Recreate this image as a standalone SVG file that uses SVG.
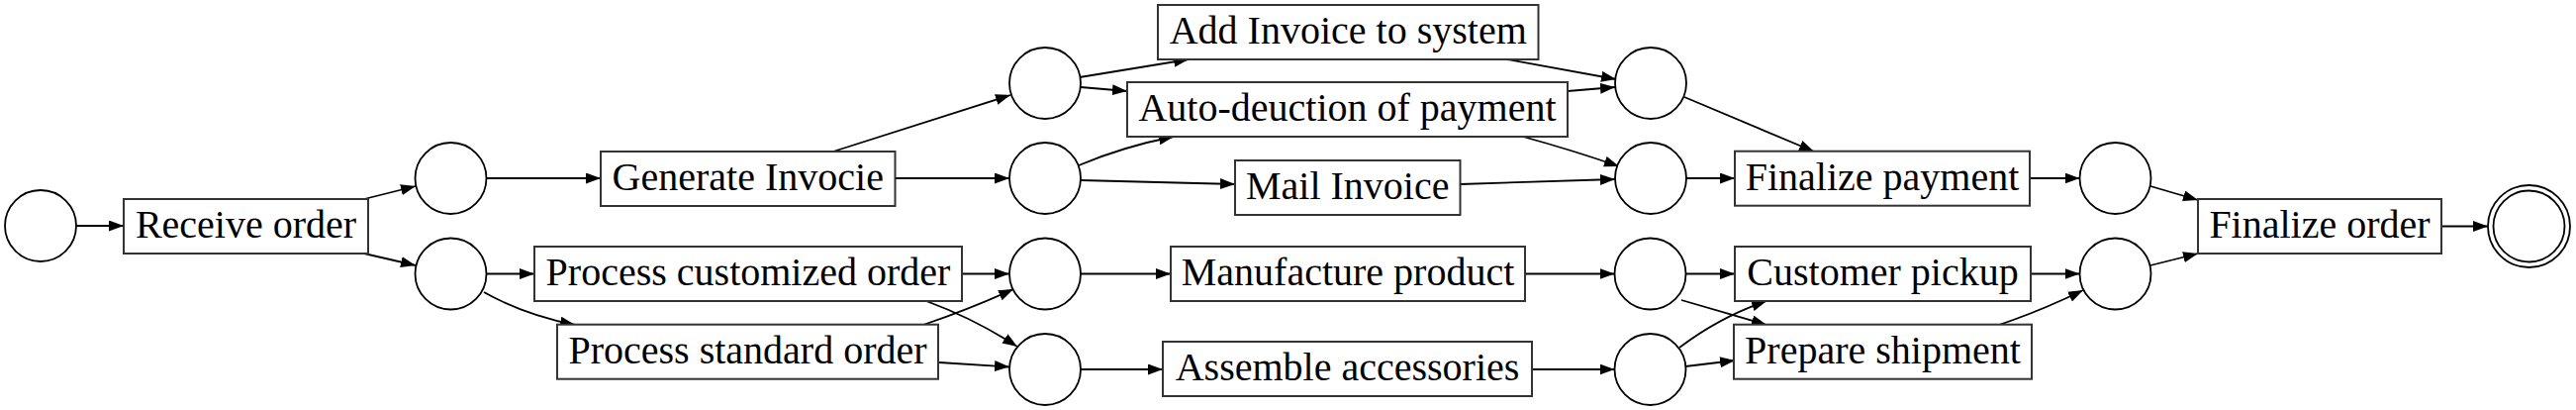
<svg xmlns="http://www.w3.org/2000/svg" width="2603" height="414" viewBox="0 0 2603 414">
<style>
.pl{fill:#fff;stroke:#000;stroke-width:1.8}
.tr{fill:#fff;stroke:#333;stroke-width:2}
.lb{font-size:40px;text-anchor:middle;fill:#000}
.e{fill:none;stroke:#000;stroke-width:1.8;marker-end:url(#ah)}
</style>
<defs>
<marker id="ah" markerUnits="userSpaceOnUse" markerWidth="16" markerHeight="12" refX="15" refY="5.5" orient="auto">
<path d="M0,0 L15,5.5 L0,11 z" fill="#000"/>
</marker>
</defs>
<rect width="2603" height="414" fill="#fff"/>
<g id="connectors">
<path class="e" d="M77,228 L125,228"/>
<path class="e" d="M368,201 L420,188"/>
<path class="e" d="M368,256 L420,268"/>
<path class="e" d="M491.5,180 L607,180"/>
<path class="e" d="M842,153 L1021,96"/>
<path class="e" d="M904.5,180 L1020,180"/>
<path class="e" d="M1091,78 L1201,60"/>
<path class="e" d="M1092,88 L1139,92"/>
<path class="e" d="M1090,167 Q1135,148 1186,138"/>
<path class="e" d="M1092,182 L1248,186"/>
<path class="e" d="M1523,60 L1633,80"/>
<path class="e" d="M1584,92 L1632,88"/>
<path class="e" d="M1539,138 Q1590,152 1636,168"/>
<path class="e" d="M1475.5,186 L1632,181"/>
<path class="e" d="M1702,98 L1833,153"/>
<path class="e" d="M1704,180 L1753,180"/>
<path class="e" d="M2051,180 L2101.5,180"/>
<path class="e" d="M491,276.5 L540,276.5"/>
<path class="e" d="M489,295 Q530,318 581,328"/>
<path class="e" d="M972,276.5 L1020,276.5"/>
<path class="e" d="M933,328 Q980,312 1024,292"/>
<path class="e" d="M936,304 Q985,322 1028,350"/>
<path class="e" d="M949,366 L1020,370.5"/>
<path class="e" d="M1091.5,276.5 L1183,276.5"/>
<path class="e" d="M1091.5,373 L1175,373"/>
<path class="e" d="M1541,276.5 L1631.5,276.5"/>
<path class="e" d="M1548,373 L1631.5,373"/>
<path class="e" d="M1703,276.5 L1753,276.5"/>
<path class="e" d="M1699,303 L1785,328"/>
<path class="e" d="M1697,351 Q1738,320 1785,304"/>
<path class="e" d="M1703,370 L1753,364"/>
<path class="e" d="M2052,276.5 L2101.5,276.5"/>
<path class="e" d="M2020,328 Q2062,314 2105,293"/>
<path class="e" d="M2173,188 L2221,202"/>
<path class="e" d="M2173,268 L2221,256"/>
<path class="e" d="M2467,228.5 L2514,228.5"/>
</g>
<g font-family="'Liberation Serif', 'Times New Roman', 'DejaVu Serif', serif">
<g id="start"><circle class="pl" cx="41" cy="228" r="36"/></g>
<g id="receive_order"><rect class="tr" x="125" y="201" width="247" height="55"/><text class="lb" x="248.5" y="240">Receive order</text></g>
<g id="p1"><circle class="pl" cx="455.5" cy="180" r="36"/></g>
<g id="p2"><circle class="pl" cx="455.5" cy="276.5" r="36"/></g>
<g id="generate_invoice"><rect class="tr" x="607" y="153" width="297.5" height="55"/><text class="lb" x="755.75" y="192">Generate Invocie</text></g>
<g id="p3"><circle class="pl" cx="1056" cy="84" r="36"/></g>
<g id="p4"><circle class="pl" cx="1056" cy="180" r="36"/></g>
<g id="p9"><circle class="pl" cx="1056" cy="276.5" r="36"/></g>
<g id="p10"><circle class="pl" cx="1056" cy="373" r="36"/></g>
<g id="add_invoice"><rect class="tr" x="1170" y="5" width="384.5" height="55"/><text class="lb" x="1362.25" y="44">Add Invoice to system</text></g>
<g id="auto_deduction"><rect class="tr" x="1139" y="83" width="445" height="55"/><text class="lb" x="1361.5" y="122">Auto-deuction of payment</text></g>
<g id="mail_invoice"><rect class="tr" x="1248" y="162" width="227.5" height="55"/><text class="lb" x="1361.75" y="201">Mail Invoice</text></g>
<g id="process_customized"><rect class="tr" x="540" y="249" width="432" height="55"/><text class="lb" x="756" y="288">Process customized order</text></g>
<g id="process_standard"><rect class="tr" x="563" y="327.7" width="385" height="55"/><text class="lb" x="755.5" y="366.7">Process standard order</text></g>
<g id="manufacture"><rect class="tr" x="1183" y="249" width="358" height="55"/><text class="lb" x="1362" y="288">Manufacture product</text></g>
<g id="assemble"><rect class="tr" x="1175" y="345" width="373" height="55"/><text class="lb" x="1361.5" y="384">Assemble accessories</text></g>
<g id="p5"><circle class="pl" cx="1668" cy="84" r="36"/></g>
<g id="p6"><circle class="pl" cx="1668" cy="180" r="36"/></g>
<g id="p11"><circle class="pl" cx="1667.5" cy="276.5" r="36"/></g>
<g id="p12"><circle class="pl" cx="1667.5" cy="373" r="36"/></g>
<g id="finalize_payment"><rect class="tr" x="1753" y="152.7" width="298" height="55"/><text class="lb" x="1902" y="191.7">Finalize payment</text></g>
<g id="customer_pickup"><rect class="tr" x="1753" y="249" width="299" height="55"/><text class="lb" x="1902.5" y="288">Customer pickup</text></g>
<g id="prepare_shipment"><rect class="tr" x="1752" y="327.7" width="301" height="55"/><text class="lb" x="1902.5" y="366.7">Prepare shipment</text></g>
<g id="p7"><circle class="pl" cx="2137.5" cy="180" r="36"/></g>
<g id="p8"><circle class="pl" cx="2137.5" cy="276.5" r="36"/></g>
<g id="finalize_order"><rect class="tr" x="2221" y="201" width="246" height="55"/><text class="lb" x="2344" y="240">Finalize order</text></g>
<g id="end"><circle class="pl" cx="2555.5" cy="228.5" r="41.5"/><circle class="pl" cx="2555.5" cy="228.5" r="36"/></g>
</g>
</svg>
